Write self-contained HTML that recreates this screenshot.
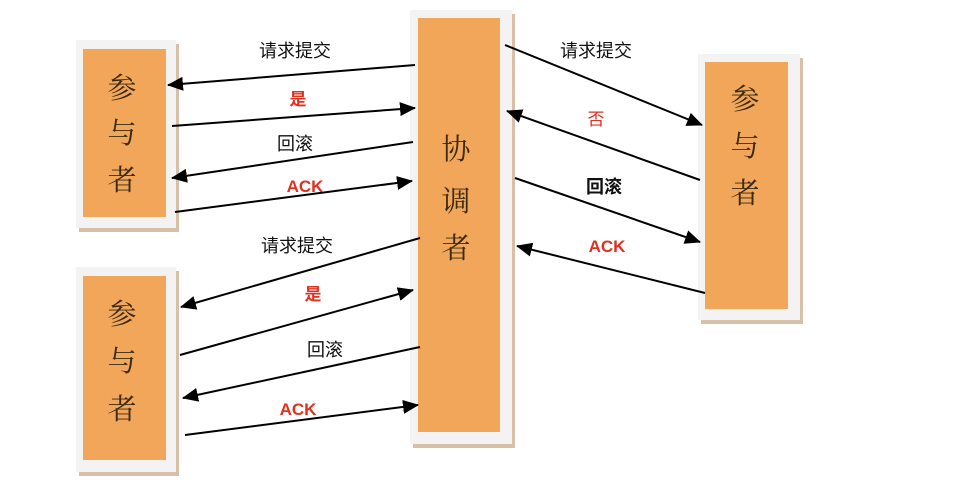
<!DOCTYPE html>
<html><head><meta charset="utf-8"><style>
html,body{margin:0;padding:0;background:#fff;width:958px;height:492px;overflow:hidden}
svg text{font-family:"Liberation Sans","Noto Sans CJK SC",sans-serif}
.b{font-family:"Noto Serif CJK SC","Liberation Serif",serif;font-size:29px;fill:#3a2a10;text-anchor:middle}
.l{font-size:18px;fill:#111;text-anchor:middle}
.r{font-size:17px;fill:#e03020;font-weight:bold;text-anchor:middle}
</style></head><body>
<svg width="958" height="492" viewBox="0 0 958 492">
<defs><marker id="a" markerWidth="16" markerHeight="14" refX="15" refY="7" orient="auto" markerUnits="userSpaceOnUse"><path d="M0,0 L16,7 L0,14 z" fill="#000"/></marker></defs>
<g>
<rect x="79" y="44" width="100" height="188" fill="#d8c0a8"/>
<rect x="76" y="40" width="100" height="188" fill="#f3f3f3"/>
<rect x="83" y="49" width="83" height="168" fill="#f2a65a"/>
<rect x="79" y="271" width="100" height="205" fill="#d8c0a8"/>
<rect x="76" y="267" width="100" height="205" fill="#f3f3f3"/>
<rect x="83" y="276" width="83" height="184" fill="#f2a65a"/>
<rect x="413" y="14" width="102" height="434" fill="#d8c0a8"/>
<rect x="410" y="10" width="102" height="434" fill="#f3f3f3"/>
<rect x="418" y="18" width="82" height="414" fill="#f2a65a"/>
<rect x="701" y="58" width="102" height="266" fill="#d8c0a8"/>
<rect x="698" y="54" width="102" height="266" fill="#f3f3f3"/>
<rect x="705" y="62" width="83" height="247" fill="#f2a65a"/>
</g>
<text class="b" x="122" y="98">参</text><text class="b" x="122" y="143">与</text><text class="b" x="122" y="190">者</text>
<text class="b" x="122" y="324">参</text><text class="b" x="122" y="371">与</text><text class="b" x="122" y="419">者</text>
<text class="b" x="745" y="109">参</text><text class="b" x="745" y="156">与</text><text class="b" x="745" y="203">者</text>
<text class="b" x="456" y="159">协</text><text class="b" x="456" y="211">调</text><text class="b" x="456" y="258">者</text>
<g stroke="#000" stroke-width="2" fill="none" marker-end="url(#a)">
<line x1="415" y1="65" x2="168" y2="85"/>
<line x1="172" y1="126" x2="415" y2="108"/>
<line x1="413" y1="142" x2="172" y2="178"/>
<line x1="175" y1="212" x2="412" y2="181"/>
<line x1="420" y1="238" x2="181" y2="307"/>
<line x1="180" y1="355" x2="413" y2="290"/>
<line x1="420" y1="347" x2="183" y2="398"/>
<line x1="185" y1="435" x2="418" y2="405"/>
<line x1="505" y1="45" x2="702" y2="125"/>
<line x1="700" y1="180" x2="507" y2="111"/>
<line x1="515" y1="178" x2="700" y2="242"/>
<line x1="705" y1="293" x2="517" y2="246"/>
</g>
<text class="l" x="295" y="57">请求提交</text>
<text class="r" x="298" y="105">是</text>
<text class="l" x="295" y="150">回滚</text>
<text class="r" x="305" y="192">ACK</text>
<text class="l" x="297" y="252">请求提交</text>
<text class="r" x="313" y="300">是</text>
<text class="l" x="325" y="356">回滚</text>
<text class="r" x="298" y="415">ACK</text>
<text class="l" x="596" y="57">请求提交</text>
<text class="r" x="596" y="125" style="font-weight:normal">否</text>
<text class="l" x="604" y="193" style="font-weight:bold">回滚</text>
<text class="r" x="607" y="252">ACK</text>
</svg>
</body></html>
